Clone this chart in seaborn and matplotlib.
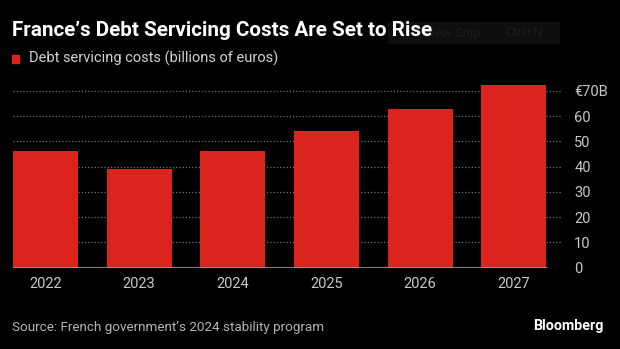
import matplotlib
matplotlib.use("Agg")
import matplotlib.pyplot as plt
import seaborn as sns
import pandas as pd
from matplotlib.patches import Rectangle

years = ["2022", "2023", "2024", "2025", "2026", "2027"]
costs = [46.3, 39.0, 46.3, 54.0, 62.7, 72.3]
y_ticks = [0, 10, 20, 30, 40, 50, 60, 70]
y_tick_labels = ["0", "10", "20", "30", "40", "50", "60", "€70B"]

title = "France\u2019s Debt Servicing Costs Are Set to Rise"
legend_label = "Debt servicing costs (billions of euros)"
source = "Source: French government\u2019s 2024 stability program"

BG = "#000000"
RED = "#dc241f"
TICK = "#c8c8c8"
GRID = "#707070"

sns.set_theme(style="dark")
plt.rcParams["font.family"] = ["Roboto", "DejaVu Sans"]

df = pd.DataFrame({"year": years, "cost": costs})

W, H = 620, 349
fig = plt.figure(figsize=(W / 100, H / 100), dpi=100, facecolor=BG)
ax_left, ax_right = 12.6, 561.0
ax_bottom, ax_top = 267.7, 84.4
ax = fig.add_axes([ax_left / W, (H - ax_bottom) / H,
                   (ax_right - ax_left) / W, (ax_bottom - ax_top) / H])
ax.set_facecolor(BG)

sns.barplot(data=df, x="year", y="cost", color=RED, saturation=1,
            width=0.695, ax=ax, zorder=3, linewidth=0)

x_lo, x_hi = -0.35, 5.35 + (561.0 - 546.6) / 93.8
ax.set_xlim(x_lo, x_hi)
ax.set_ylim(0, 72.5)

# dotted horizontal gridlines
for t in y_ticks[1:]:
    ax.axhline(t, color=GRID, lw=0.9, ls=(0, (1, 1.6)), zorder=1)
# solid baseline under the bars
ax.axhline(0, xmax=(5.35 - x_lo) / (x_hi - x_lo), color="#9a9a9a", lw=1.2, zorder=4)

ax.yaxis.tick_right()
ax.set_yticks(y_ticks)
ax.set_yticklabels(y_tick_labels)
ax.tick_params(axis="y", length=0, pad=9.5, labelsize=10.5, labelcolor=TICK)
ax.tick_params(axis="x", length=0, pad=7, labelsize=10.5, labelcolor=TICK)
ax.set_xlabel("")
ax.set_ylabel("")
for s in ax.spines.values():
    s.set_visible(False)
ax.grid(False)

# faint overlay box behind the end of the title
fig.patches.append(Rectangle((388 / W, 1 - 43 / H), 171 / W, 21 / H,
                             transform=fig.transFigure, color="#0e0e0e", zorder=0))
fig.text(425 / W, 1 - 33 / H, "New Snip", color="#1c1c1c", fontsize=9.5,
         va="center", ha="left", zorder=1)
fig.text(505 / W, 1 - 33 / H, "Ctrl+N", color="#1c1c1c", fontsize=9.5,
         va="center", ha="left", zorder=1)

# header
fig.text(12 / W, 1 - 30 / H, title, color="white", fontsize=14.9,
         fontweight="bold", va="center", ha="left", zorder=2)
fig.patches.append(Rectangle((12 / W, 1 - 62.5 / H), 7.5 / W, 7.5 / H,
                             transform=fig.transFigure, color=RED))
fig.text(29 / W, 1 - 58.5 / H, legend_label, color="#d2d2d2", fontsize=10.5,
         va="center", ha="left")

# footer
fig.text(12 / W, 1 - 327 / H, source, color="#b4b4b4", fontsize=9.7,
         va="center", ha="left")
fig.text(604 / W, 1 - 326 / H, "Bloomberg", color="white", fontsize=10.3,
         fontweight="bold", va="center", ha="right")

fig.savefig("out.png", dpi=100, facecolor=BG)
